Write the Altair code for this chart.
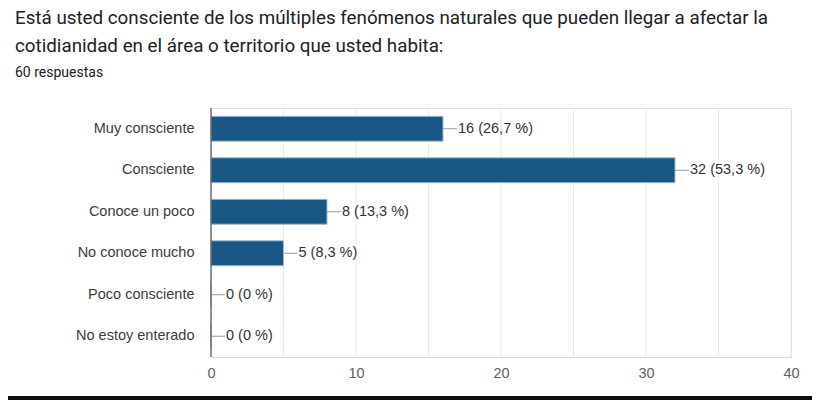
import altair as alt
import pandas as pd

categories = ["Muy consciente", "Consciente", "Conoce un poco", "No conoce mucho",
              "Poco consciente", "No estoy enterado"]
counts = [16, 32, 8, 5, 0, 0]
percents = ["26,7 %", "53,3 %", "13,3 %", "8,3 %", "0 %", "0 %"]
x_ticks = [0, 10, 20, 30, 40]
grid_values = [0, 5, 10, 15, 20, 25, 30, 35, 40]

title_line1 = "Está usted consciente de los múltiples fenómenos naturales que pueden llegar a afectar la"
title_line2 = "cotidianidad en el área o territorio que usted habita:"
subtitle = "60 respuestas"

df = pd.DataFrame({
    "cat": categories,
    "n": counts,
    "label": [f"{c} ({p})" for c, p in zip(counts, percents)],
})

W, H = 580, 249
PAD_L, PAD_T = 203, 100
TOTAL_W, TOTAL_H = 804, 392

xscale = alt.Scale(domain=[0, 40], nice=False)
yscale = alt.Scale(domain=categories, paddingInner=0.4, paddingOuter=0.2)

base = alt.Chart(df)

bars = base.mark_bar(color="#185784", stroke="#9dbbd2", strokeWidth=1).encode(
    x=alt.X("n:Q", scale=xscale,
            axis=alt.Axis(values=x_ticks, title=None, grid=False, domain=False, ticks=False,
                          labelFlush=False,
                          labelFont="Liberation Sans", labelFontSize=14.5, labelColor="#5f5f5f",
                          labelPadding=9)),
    y=alt.Y("cat:N", scale=yscale, sort=categories,
            axis=alt.Axis(title=None, ticks=False, domain=False,
                          labelFont="Liberation Sans", labelFontSize=14.5, labelColor="#3c3c3c",
                          labelPadding=17)),
)

grid = alt.Chart(pd.DataFrame({"g": grid_values})).mark_rule(color="#ebebeb", strokeWidth=1).encode(
    x=alt.X("g:Q", scale=xscale)
)

yaxis_line = alt.Chart(pd.DataFrame({"g": [0]})).mark_rule(color="#555555", strokeWidth=1.2).encode(
    x=alt.X("g:Q", scale=xscale)
)

leaders = base.mark_rule(color="#9a9a9a", strokeWidth=1, x2Offset=14).encode(
    x=alt.X("n:Q", scale=xscale),
    x2="n:Q",
    y=alt.Y("cat:N", scale=yscale, sort=categories, bandPosition=0.5),
)

labels = base.mark_text(align="left", baseline="middle", dx=15, fontSize=14.5,
                        font="Liberation Sans", color="#333333").encode(
    x=alt.X("n:Q", scale=xscale),
    y=alt.Y("cat:N", scale=yscale, sort=categories, bandPosition=0.5),
    text="label:N",
)

t1 = alt.Chart(alt.Data(values=[{"t": title_line1}])).mark_text(
    align="left", baseline="middle", fontSize=18.8, font="Roboto", color="#202124"
).encode(x=alt.value(-196), y=alt.value(-90), text="t:N")
t2 = alt.Chart(alt.Data(values=[{"t": title_line2}])).mark_text(
    align="left", baseline="middle", fontSize=18.8, font="Roboto", color="#202124"
).encode(x=alt.value(-196), y=alt.value(-62), text="t:N")
t3 = alt.Chart(alt.Data(values=[{"t": subtitle}])).mark_text(
    align="left", baseline="middle", fontSize=14, font="Roboto", color="#202124"
).encode(x=alt.value(-196), y=alt.value(-35), text="t:N")

strip = alt.Chart(alt.Data(values=[{"a": 1}])).mark_rect(color="#0d0d0d").encode(
    x=alt.value(-203), x2=alt.value(620), y=alt.value(288), y2=alt.value(300)
)

chart = alt.layer(grid, bars, leaders, labels, yaxis_line, t1, t2, t3, strip).properties(
    width=W, height=H,
    autosize=alt.AutoSizeParams(type="none"),
    padding={"left": PAD_L, "top": PAD_T, "right": TOTAL_W - PAD_L - W, "bottom": TOTAL_H - PAD_T - H},
).configure_view(stroke="#ebebeb").configure(background="white")

chart.save("out.html", embed_options={"renderer": "svg", "actions": False})
